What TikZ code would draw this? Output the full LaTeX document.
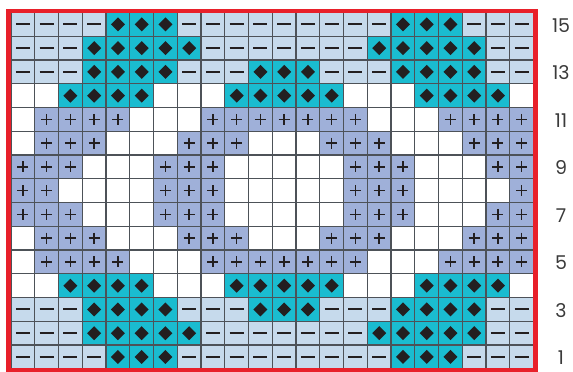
\documentclass[tikz,border=0pt]{standalone}
\usepackage{fontspec}
\setmainfont{Poppins}
\definecolor{dashbg}{HTML}{C6DAEC}
\definecolor{diabg}{HTML}{1ABCD0}
\definecolor{plusbg}{HTML}{9FB0D9}
\definecolor{gridc}{HTML}{4D5258}
\definecolor{symc}{HTML}{231F20}
\definecolor{framec}{HTML}{E8202A}
\definecolor{labc}{HTML}{3A3A3A}
\def\rowA{D,D,D,D,X,X,X,D,D,D,D,D,D,D,D,D,X,X,X,D,D,D}
\def\rowB{D,D,D,X,X,X,X,X,D,D,D,D,D,D,D,X,X,X,X,X,D,D}
\def\rowC{D,D,D,X,X,X,X,D,D,D,X,X,X,D,D,D,X,X,X,X,D,D}
\def\rowD{W,W,X,X,X,X,W,W,W,X,X,X,X,X,W,W,W,X,X,X,X,W}
\def\rowE{W,P,P,P,P,W,W,W,P,P,P,P,P,P,P,W,W,W,P,P,P,P}
\def\rowF{W,P,P,P,W,W,W,P,P,P,W,W,W,P,P,P,W,W,W,P,P,P}
\def\rowG{P,P,P,W,W,W,P,P,P,W,W,W,W,W,P,P,P,W,W,W,P,P}
\def\rowH{P,P,W,W,W,W,P,P,P,W,W,W,W,W,P,P,P,W,W,W,W,P}
\def\xo{11}\def\yo{12.5}\def\cs{23.75}
\tikzset{
  gridline/.style={draw=gridc, line width=1.2pt},
  dashsym/.style={draw=symc, line width=1.8pt},
  plussym/.style={draw=symc, line width=1.5pt},
  diasym/.style={fill=symc},
  rowlabel/.style={font=\fontsize{19}{19}\selectfont, text=labc, inner sep=0pt},
  frame/.style={draw=framec, line width=4.5pt}
}
\begin{document}
\begin{tikzpicture}[x=1pt,y=-1pt]
\useasboundingbox (0,0) rectangle (573,372);
% cell fills
\foreach \r/\row in {15/\rowA,14/\rowB,13/\rowC,12/\rowD,11/\rowE,10/\rowF,9/\rowG,8/\rowH,7/\rowG,6/\rowF,5/\rowE,4/\rowD,3/\rowC,2/\rowB,1/\rowA}{
  \edef\thisrow{\row}
  \foreach \c [count=\i] in \thisrow {
    \pgfmathsetmacro\lx{\xo+(\i-1)*\cs}
    \pgfmathsetmacro\ty{\yo+(15-\r)*\cs}
    \if\c D \fill[dashbg] (\lx,\ty) rectangle ++(\cs,\cs); \fi
    \if\c X \fill[diabg] (\lx,\ty) rectangle ++(\cs,\cs); \fi
    \if\c P \fill[plusbg] (\lx,\ty) rectangle ++(\cs,\cs); \fi
  }
}
% grid lines
\foreach \k in {0,...,22}{
  \draw[gridline] ({\xo+\k*\cs},\yo) -- ++(0,{15*\cs});
}
\foreach \k in {0,...,15}{
  \draw[gridline] (\xo,{\yo+\k*\cs}) -- ++({22*\cs},0);
}
% symbols
\foreach \r/\row in {15/\rowA,14/\rowB,13/\rowC,12/\rowD,11/\rowE,10/\rowF,9/\rowG,8/\rowH,7/\rowG,6/\rowF,5/\rowE,4/\rowD,3/\rowC,2/\rowB,1/\rowA}{
  \edef\thisrow{\row}
  \foreach \c [count=\i] in \thisrow {
    \pgfmathsetmacro\cx{\xo+(\i-0.5)*\cs}
    \pgfmathsetmacro\cy{\yo+(15.5-\r)*\cs}
    \if\c D \draw[dashsym] (\cx-7,\cy) -- (\cx+7,\cy); \fi
    \if\c X \fill[diasym] (\cx,\cy-7) -- (\cx+7,\cy) -- (\cx,\cy+7) -- (\cx-7,\cy) -- cycle; \fi
    \if\c P \draw[plussym] (\cx-5.5,\cy) -- (\cx+5.5,\cy) (\cx,\cy-5.5) -- (\cx,\cy+5.5); \fi
  }
}
% frame
\draw[frame] (8.5,11.2) rectangle (535.6,369.8);
% row numbers
\foreach \r in {15,13,11,9,7,5,3,1}{
  \node[rowlabel] (lab\r) at (561,{\yo+(15.5-\r)*\cs+1}) {\r};
}
\end{tikzpicture}
\end{document}
